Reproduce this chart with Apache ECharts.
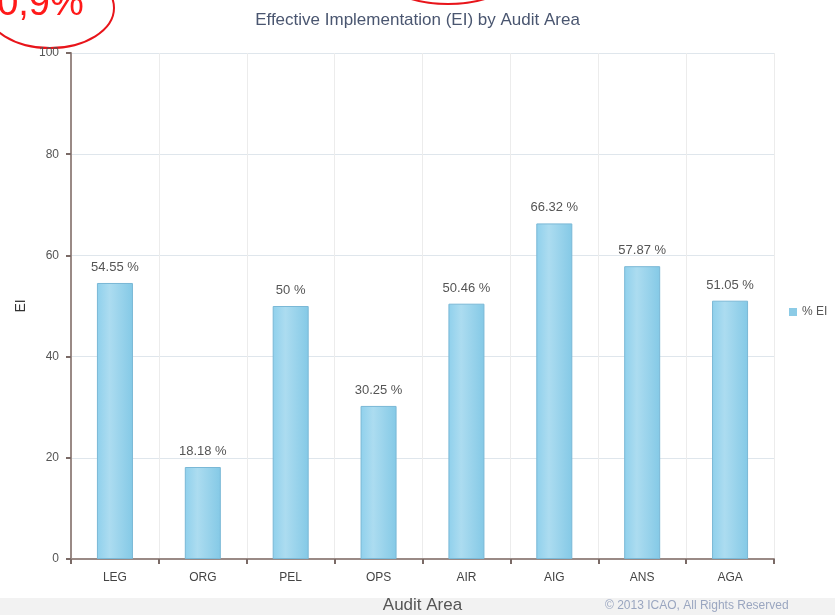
<!DOCTYPE html>
<html>
<head>
<meta charset="utf-8">
<script src="https://cdn.jsdelivr.net/npm/echarts@6/dist/echarts.min.js"></script>
<style>
  html, body { margin: 0; padding: 0; background: #fff; }
  #chart { width: 835px; height: 615px; }
</style>
</head>
<body>
<div id="chart"></div>
<script>
const categories = ['LEG', 'ORG', 'PEL', 'OPS', 'AIR', 'AIG', 'ANS', 'AGA']
const eiValues = [54.55, 18.18, 50, 30.25, 50.46, 66.32, 57.87, 51.05]
const yTicks = [0, 20, 40, 60, 80, 100]

const myChart = echarts.init(document.getElementById('chart'))
const font = 'Liberation Sans, Arial, sans-serif'

const option = {
  animation: false,
  textStyle: { fontFamily: font },
  title: {
    text: 'Effective Implementation (EI) by Audit Area',
    left: 'center',
    top: 7,
    textStyle: { fontSize: 17, fontWeight: 'normal', color: '#4a5670', fontFamily: font }
  },
  legend: {
    data: ['% EI'],
    orient: 'vertical',
    left: 784,
    top: 301,
    itemWidth: 8,
    itemHeight: 8,
    itemGap: 4,
    icon: 'rect',
    itemStyle: { color: '#8ccbe6', borderWidth: 0 },
    textStyle: { fontSize: 12, color: '#555', fontFamily: font }
  },
  grid: {
    left: 71,
    right: 61,
    top: 53,
    bottom: 56,
    containLabel: false,
    outerBoundsMode: 'none'
  },
  xAxis: {
    type: 'category',
    data: categories,
    name: 'Audit Area',
    nameLocation: 'middle',
    nameGap: 38,
    nameTextStyle: { fontSize: 17, color: '#555' },
    axisLine: { lineStyle: { color: '#9a8a86', width: 2 } },
    axisTick: { show: true, length: 5, lineStyle: { color: '#7a6a66', width: 2 } },
    axisLabel: { fontSize: 12, color: '#444', margin: 13 },
    splitLine: { show: true, lineStyle: { color: '#ececec' } }
  },
  yAxis: {
    type: 'value',
    min: 0,
    max: 100,
    interval: 20,
    name: 'EI',
    nameLocation: 'middle',
    nameGap: 39,
    nameTextStyle: { fontSize: 14, color: '#333' },
    axisLine: { show: true, lineStyle: { color: '#9a8a86', width: 2 } },
    axisTick: { show: true, length: 5, lineStyle: { color: '#7a6a66', width: 2 } },
    axisLabel: {
      fontSize: 12,
      color: '#555',
      margin: 12,
      formatter: function (v) { return yTicks.indexOf(v) >= 0 ? String(v) : '' }
    },
    splitLine: { show: true, lineStyle: { color: '#dfe6ec' } }
  },
  series: [
    {
      name: '% EI',
      type: 'bar',
      data: eiValues,
      barWidth: '41%',
      itemStyle: {
        color: new echarts.graphic.LinearGradient(0, 0, 1, 0, [
          { offset: 0, color: '#8fd0ec' },
          { offset: 0.35, color: '#acdcf0' },
          { offset: 1, color: '#84c9e6' }
        ]),
        borderColor: '#7ab8d6',
        borderWidth: 1
      },
      label: {
        show: true,
        position: 'top',
        distance: 9,
        fontSize: 13,
        color: '#555',
        formatter: '{c} %'
      }
    }
  ],
  graphic: [
    {
      type: 'rect',
      shape: { x: 0, y: 598, width: 835, height: 17 },
      style: { fill: '#f2f2f2' },
      z: -1
    },
    {
      type: 'text',
      left: 605,
      top: 600,
      style: { text: '\u00a9 2013 ICAO, All Rights Reserved', fill: '#9aa6c0', font: '12px ' + font }
    },
    {
      type: 'text',
      left: -24,
      top: -14,
      style: { text: '60,9%', fill: '#ff1a1a', font: '38px ' + font }
    },
    {
      type: 'ellipse',
      shape: { cx: 50, cy: 8, rx: 64, ry: 40 },
      style: { fill: 'none', stroke: '#e8141a', lineWidth: 2 }
    },
    {
      type: 'ellipse',
      shape: { cx: 448, cy: -30, rx: 70, ry: 34 },
      style: { fill: 'none', stroke: '#e8141a', lineWidth: 2 }
    }
  ]
}

myChart.setOption(option)
</script>
</body>
</html>
